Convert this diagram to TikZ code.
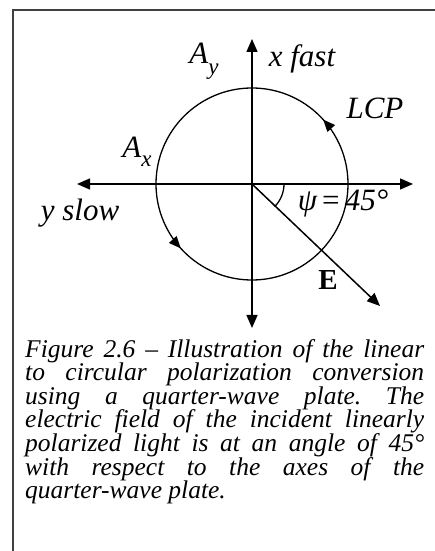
\documentclass[tikz,border=0pt]{standalone}
\usepackage{fontspec}
\setmainfont{Liberation Serif}
\usetikzlibrary{arrows.meta,decorations.markings,calc}
\begin{document}
\begin{tikzpicture}[x=1pt,y=1pt,
  axis/.style={line width=1.5pt,{Triangle[length=13pt,width=11pt]}-{Triangle[length=13pt,width=11pt]}},
  lbl/.style={font=\fontsize{31}{34}\selectfont\itshape,inner sep=0pt},
  tip/.style={-{Triangle[length=13pt,width=11pt]}}
]
\useasboundingbox (0,0) rectangle (435,551);
\draw[line width=1.3pt,black!75] (13,0) -- (13,541) -- (435,541);
\coordinate (C) at (252,367);
\coordinate (vt) at (252,512);
\coordinate (vb) at (252,223);
\coordinate (hl) at (77,367);
\coordinate (hr) at (413,367);
\coordinate (Et) at (380,245);
\coordinate (A0) at (284,367);
\draw[axis] (vb) -- (vt);
\draw[axis] (hl) -- (hr);
\draw[line width=1.5pt,tip] (C) -- (Et);
\draw[line width=1.3pt,postaction={decorate},decoration={markings,
  mark=at position 0.117 with {\arrow{Triangle[length=12pt,width=10pt]}},
  mark=at position 0.617 with {\arrow{Triangle[length=12pt,width=10pt]}}}]
  (C) circle[radius=96];
\draw[line width=1.3pt] (A0) arc[start angle=0,end angle=-45,radius=32];
\node[lbl] (Ay) at (204,490) {A\raisebox{-0.35em}{\fontsize{23}{25}\selectfont y}};
\node[lbl] (xf) at (302,492) {x fast};
\node[lbl] (lcp) at (375,443) {LCP};
\node[lbl] (Ax) at (137,399) {A\raisebox{-0.3em}{\fontsize{23}{25}\selectfont x}};
\node[lbl] (ys) at (80,338) {y slow};
\node[lbl] (psi) at (343,348) {ψ\,{\upshape =}\,45°};
\node[lbl,font=\fontsize{29}{32}\selectfont\bfseries] (E) at (328,271) {E};
\node[anchor=north west,inner sep=0pt,text width=399pt,align=justify,
  font=\fontsize{25.5}{23.6}\selectfont\itshape] (cap) at (25,212)
  {\hyphenpenalty=10000\relax\frenchspacing
   Figure 2.6 – Illustration of the linear\linebreak
   to circular polarization conversion\linebreak
   using a quarter-wave plate. The\linebreak
   electric field of the incident linearly\linebreak
   polarized light is at an angle of 45°\linebreak
   with respect to the axes of the\linebreak
   quarter-wave plate.};
\end{tikzpicture}
\end{document}
